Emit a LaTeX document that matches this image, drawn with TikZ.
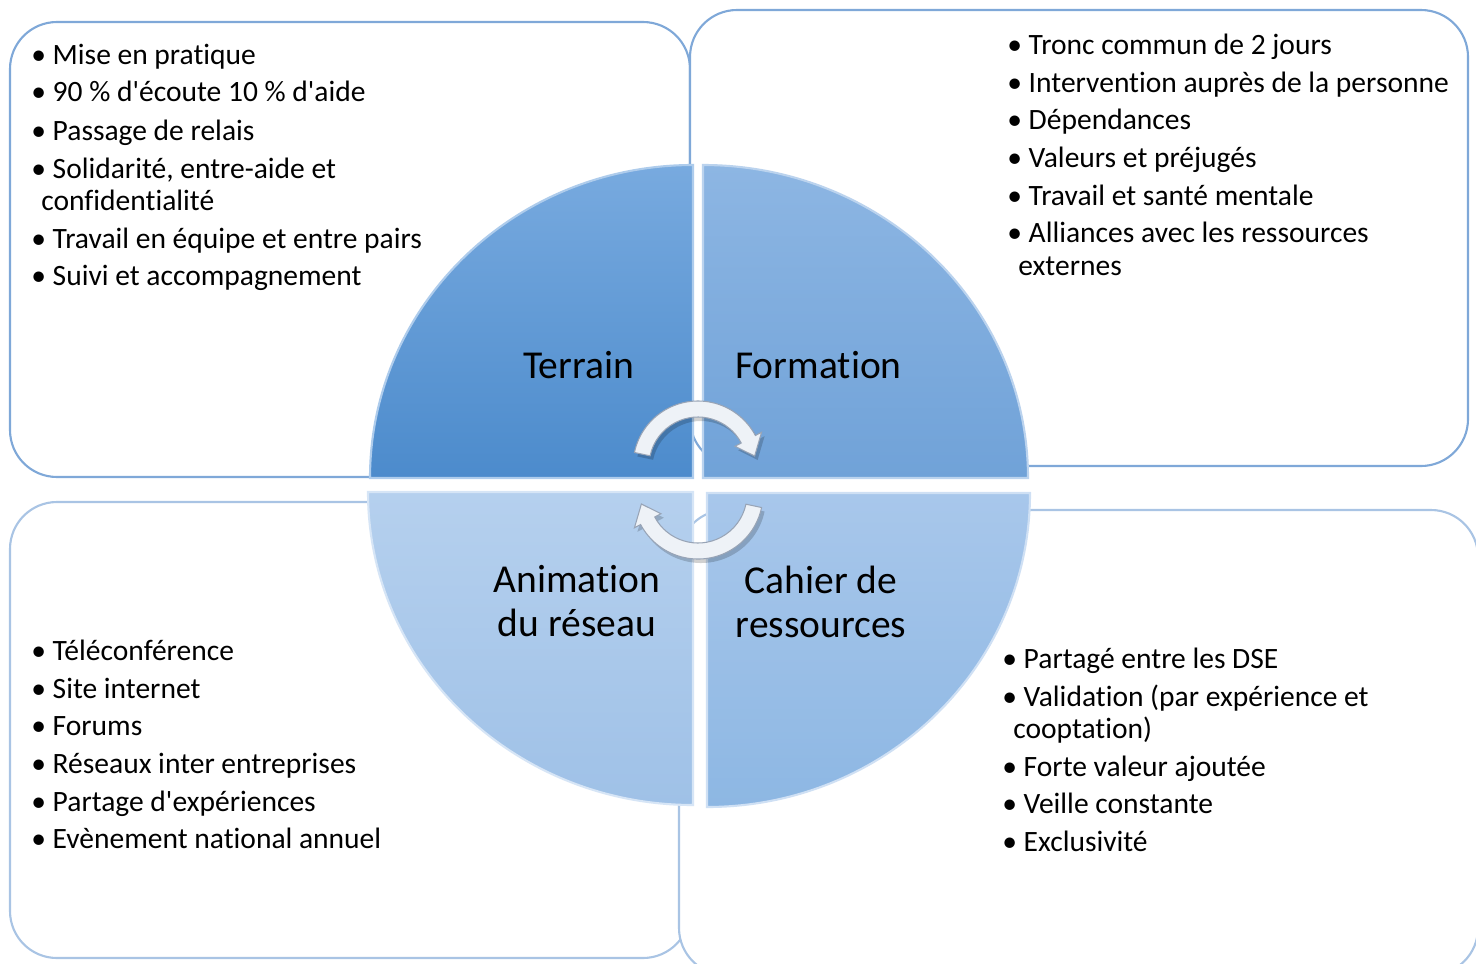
\documentclass[tikz,border=0pt]{standalone}
\usepackage{fontspec}
\setmainfont[Ligatures={NoCommon}]{Carlito}
\definecolor{boxTop}{HTML}{7FA8D8}
\definecolor{boxBot}{HTML}{A9C4E4}
\definecolor{qTLa}{HTML}{78AADF}
\definecolor{qTLb}{HTML}{4C8BCC}
\definecolor{qTRa}{HTML}{8DB6E3}
\definecolor{qTRb}{HTML}{70A2D8}
\definecolor{qBLa}{HTML}{B5D0EE}
\definecolor{qBLb}{HTML}{9FC1E7}
\definecolor{qBRa}{HTML}{A8C7EB}
\definecolor{qBRb}{HTML}{8DB7E3}
\definecolor{arrFill}{HTML}{EEF2F7}
\definecolor{arrLine}{HTML}{98A4B6}
\begin{document}
\begin{tikzpicture}[x=0.02cm,y=0.02cm,
  item/.style={anchor=base west, inner sep=0pt, font=\fontsize{16.8}{20}\selectfont, text=black},
  lbl/.style={anchor=base, inner sep=0pt, font=\fontsize{22.5}{27}\selectfont, text=black},
  outerbox/.style={rounded corners=0.94cm, fill=white, line width=1.2pt},
  quadedge/.style={line width=1.2pt},
  arrowshape/.style={fill=arrFill, draw=arrLine, line width=0.6pt},
  arrowshadow/.style={fill=black, opacity=0.18}]
\useasboundingbox (0,0) rectangle (1476,-963);

% outer boxes
\draw[outerbox, draw=boxTop] (10,-22) rectangle (690,-477);
\draw[outerbox, draw=boxTop] (690,-10) rectangle (1468,-466);
\draw[outerbox, draw=boxBot] (10,-502) rectangle (690,-958);
\draw[outerbox, draw=boxBot] (679,-510) rectangle (1478,-975);

% quadrants
\path[top color=qTLa, bottom color=qTLb, draw=qTLa!60!white, quadedge]
  (693,-478) -- (370,-478) arc[start angle=180, end angle=90, x radius=323, y radius=313] -- cycle;
\path[top color=qTRa, bottom color=qTRb, draw=qTRa!60!white, quadedge]
  (703,-478) -- (703,-165) arc[start angle=90, end angle=0, x radius=325, y radius=313] -- cycle;
\path[top color=qBLa, bottom color=qBLb, draw=qBLa!55!white, quadedge]
  (693,-492) -- (693,-805) arc[start angle=270, end angle=180, x radius=325, y radius=313] -- cycle;
\path[top color=qBRa, bottom color=qBRb, draw=qBRa!55!white, quadedge]
  (707,-493) -- (1030,-493) arc[start angle=0, end angle=-90, x radius=323, y radius=314] -- cycle;

% circular arrows
\begin{scope}[shift={(701,-470)}]
  \path[arrowshadow] (168:65) arc[start angle=168, end angle=28, radius=65] -- (28:72) -- (10:57.5) -- (28:42) -- (28:49) arc[start angle=28, end angle=168, radius=49] -- cycle;
\end{scope}
\begin{scope}[shift={(698,-466)}]
  \path[arrowshape] (168:65) arc[start angle=168, end angle=28, radius=65] -- (28:72) -- (10:57.5) -- (28:42) -- (28:49) arc[start angle=28, end angle=168, radius=49] -- cycle;
\end{scope}
\begin{scope}[shift={(701,-498)}, rotate=180]
  \path[arrowshadow] (168:65) arc[start angle=168, end angle=28, radius=65] -- (28:72) -- (10:57.5) -- (28:42) -- (28:49) arc[start angle=28, end angle=168, radius=49] -- cycle;
\end{scope}
\begin{scope}[shift={(698,-494)}, rotate=180]
  \path[arrowshape] (168:65) arc[start angle=168, end angle=28, radius=65] -- (28:72) -- (10:57.5) -- (28:42) -- (28:49) arc[start angle=28, end angle=168, radius=49] -- cycle;
\end{scope}

% quadrant labels
\node[lbl] (terrain) at (578.5,-378) {Terrain};
\node[lbl] (formation) at (818.5,-378) {Formation};
\node[lbl] (anim1) at (577,-592) {Animation};
\node[lbl] (anim2) at (577,-636) {du réseau};
\node[lbl] (cahier1) at (821,-593) {Cahier de};
\node[lbl] (cahier2) at (821,-637) {ressources};

% top-left list
\node[item] (tl1) at (31,-65) {• Mise en pratique};
\node[item] (tl2) at (31,-102) {• 90 \% d\textquotesingle écoute 10 \% d\textquotesingle aide};
\node[item] (tl3) at (31,-140) {• Passage de relais};
\node[item] (tl4) at (31,-178) {• Solidarité, entre-aide et};
\node[item] (tl5) at (41,-210) {confidentialité};
\node[item] (tl6) at (31,-248) {• Travail en équipe et entre pairs};
\node[item] (tl7) at (31,-285) {• Suivi et accompagnement};

% top-right list
\node[item] (tr1) at (1007,-55) {• Tronc commun de 2 jours};
\node[item] (tr2) at (1007,-92) {• Intervention auprès de la personne};
\node[item] (tr3) at (1007,-130) {• Dépendances};
\node[item] (tr4) at (1007,-167) {• Valeurs et préjugés};
\node[item] (tr5) at (1007,-205) {• Travail et santé mentale};
\node[item] (tr6) at (1007,-242) {• Alliances avec les ressources};
\node[item] (tr7) at (1018,-275) {externes};

% bottom-left list
\node[item] (bl1) at (31,-660) {• Téléconférence};
\node[item] (bl2) at (31,-698) {• Site internet};
\node[item] (bl3) at (31,-735) {• Forums};
\node[item] (bl4) at (31,-773) {• Réseaux inter entreprises};
\node[item] (bl5) at (31,-811) {• Partage d\textquotesingle expériences};
\node[item] (bl6) at (31,-848) {• Evènement national annuel};

% bottom-right list
\node[item] (br1) at (1002,-668) {• Partagé entre les DSE};
\node[item] (br2) at (1002,-706) {• Validation (par expérience et};
\node[item] (br3) at (1013,-738) {cooptation)};
\node[item] (br4) at (1002,-776) {• Forte valeur ajoutée};
\node[item] (br5) at (1002,-813) {• Veille constante};
\node[item] (br6) at (1002,-851) {• Exclusivité};
\end{tikzpicture}
\end{document}
